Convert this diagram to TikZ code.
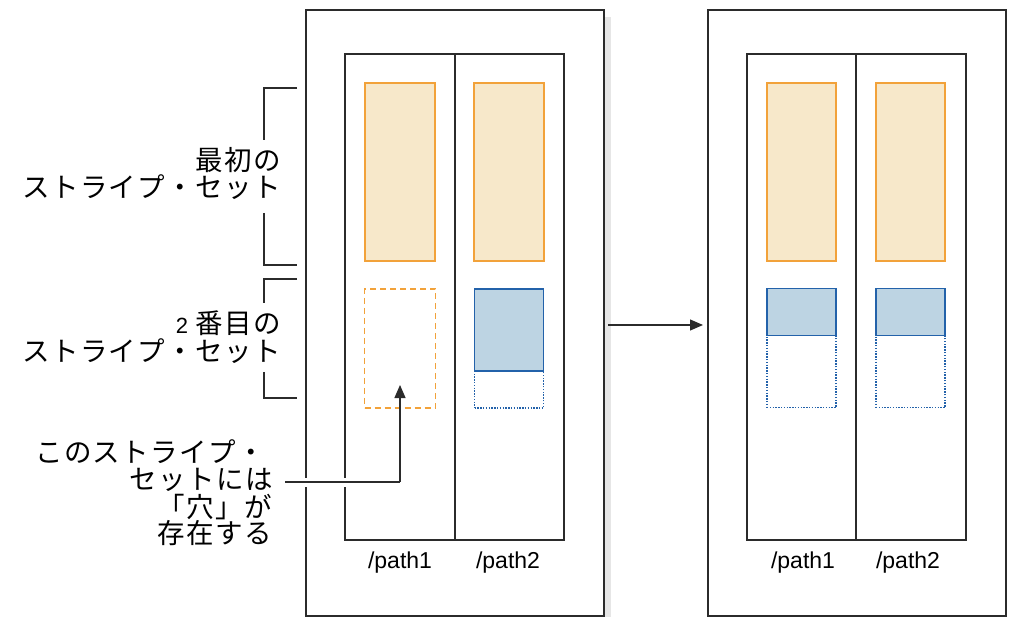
\documentclass[tikz,border=0pt]{standalone}
\usepackage{fontspec}
\setmainfont{Liberation Sans}
\newfontfamily\jp[LetterSpace=5]{Noto Sans CJK JP}
\usetikzlibrary{arrows.meta}
\definecolor{frame}{HTML}{2B2B2B}
\definecolor{orstroke}{HTML}{F2A23A}
\definecolor{orfill}{HTML}{F7E8CA}
\definecolor{blstroke}{HTML}{2362AA}
\definecolor{blfill}{HTML}{BDD4E3}
\definecolor{shadow}{HTML}{E6E6E6}
\begin{document}
\begin{tikzpicture}[x=1pt,y=-1pt,
  box/.style={draw=frame,line width=1.3pt,inner sep=0pt,fill=white},
  colbox/.style={draw=frame,line width=1.2pt,inner sep=0pt},
  obox/.style={draw=orstroke,fill=orfill,line width=1.2pt,inner sep=0pt},
  dbox/.style={draw=orstroke,line width=1.5pt,dash pattern=on 6pt off 4pt,inner sep=0pt},
  bbox/.style={draw=blstroke,fill=blfill,line width=1.4pt,inner sep=0pt},
  dotbox/.style={draw=blstroke,line width=1.4pt,dash pattern=on 1.4pt off 1.4pt,inner sep=0pt},
  pathlbl/.style={font=\fontsize{23}{26}\selectfont,inner sep=0pt},
  jptext/.style={font=\fontsize{27.5}{29}\jp,inner sep=0pt,anchor=east},
  brk/.style={draw=frame,line width=1.2pt},
  arr/.style={draw=frame,line width=1.2pt,-{Triangle[length=13pt,width=11pt]}}
]
\useasboundingbox (0,0) rectangle (1009,617);
% shadow of left frame
\fill[shadow] (605,17) rectangle (611,617);
% left frame
\node[box,minimum width=298pt,minimum height=606pt] (L) at (455,313) {};
\node[colbox,minimum width=110pt,minimum height=486pt] (Lc1) at (400,297) {};
\node[colbox,minimum width=109pt,minimum height=486pt] (Lc2) at (509.5,297) {};
\node[obox,minimum width=70pt,minimum height=178pt] (Lo1) at (400,172) {};
\node[obox,minimum width=70pt,minimum height=178pt] (Lo2) at (509,172) {};
\node[dbox,minimum width=71pt,minimum height=119pt] (Ld1) at (400,348.5) {};
\node[dotbox,minimum width=69pt,minimum height=119pt] (Ldt2) at (509,348.5) {};
\node[bbox,minimum width=69pt,minimum height=82pt] (Lb2) at (509,330) {};
\node[pathlbl] (Lp1) at (400,563) {/path1};
\node[pathlbl] (Lp2) at (508,563) {/path2};
% right frame
\node[box,minimum width=298pt,minimum height=606pt] (R) at (857,313) {};
\node[colbox,minimum width=109pt,minimum height=486pt] (Rc1) at (801.5,297) {};
\node[colbox,minimum width=110pt,minimum height=486pt] (Rc2) at (911,297) {};
\node[obox,minimum width=69pt,minimum height=178pt] (Ro1) at (801.5,172) {};
\node[obox,minimum width=69pt,minimum height=178pt] (Ro2) at (910.5,172) {};
\node[dotbox,minimum width=69pt,minimum height=119pt] (Rdt1) at (801.5,348) {};
\node[dotbox,minimum width=69pt,minimum height=119pt] (Rdt2) at (910.5,348) {};
\node[bbox,minimum width=69pt,minimum height=47pt] (Rb1) at (801.5,312) {};
\node[bbox,minimum width=69pt,minimum height=47pt] (Rb2) at (910.5,312) {};
\node[pathlbl] (Rp1) at (803,563) {/path1};
\node[pathlbl] (Rp2) at (908,563) {/path2};
% main arrow
\coordinate (a1) at (608,325);
\coordinate (a2) at (703,325);
\draw[arr] (a1) -- (a2);
% brackets
\draw[brk] (297,88) -- (264,88) -- (264,140);
\draw[brk] (264,213) -- (264,265) -- (297,265);
\draw[brk] (297,279) -- (264,279) -- (264,303);
\draw[brk] (264,372) -- (264,398) -- (297,398);
% labels of brackets
\node[jptext] (s1a) at (281,160) {最初の};
\node[jptext] (s1b) at (281,187) {ストライプ・セット};
\node[jptext] (s2a) at (281,323) {{\fontspec{Liberation Sans}\fontsize{22}{24}\selectfont 2} 番目の};
\node[jptext] (s2b) at (281,351) {ストライプ・セット};
% callout text
\node[jptext] (h1) at (265,452) {このストライプ・};
\node[jptext] (h2) at (273,480) {セットには};
\node[jptext] (h3) at (272,507) {「穴」が};
\node[jptext] (h4) at (272,533) {存在する};
\coordinate (hs) at (285,482);
\coordinate (hb) at (400,482);
\coordinate (ht) at (400,385);
\draw[white,line width=9pt] (hs) ++(10,0) -- (hb);
\draw[brk] (hs) -- (hb);
\draw[arr] (hb) -- (ht);
\end{tikzpicture}
\end{document}
